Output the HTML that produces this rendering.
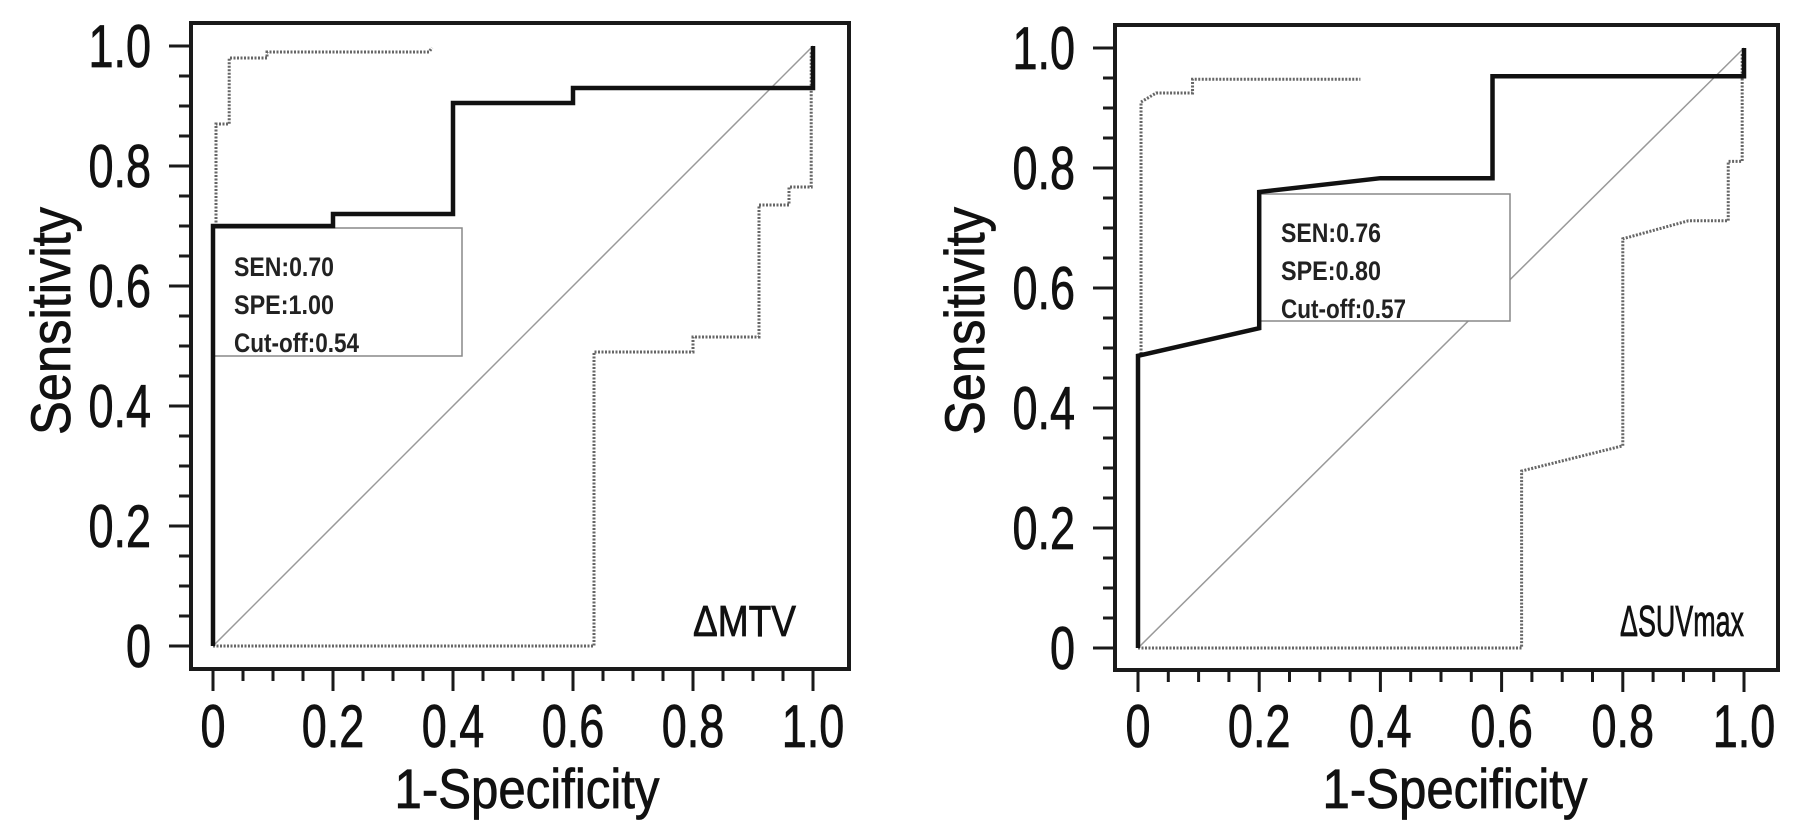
<!DOCTYPE html>
<html><head><meta charset="utf-8"><style>
html,body{margin:0;padding:0;background:#fff;}
svg{display:block;font-family:"Liberation Sans",Arial,sans-serif;}
</style></head><body>
<svg id="chart" width="1795" height="837" viewBox="0 0 1795 837" xmlns="http://www.w3.org/2000/svg"></svg>
<script>
// ---- data ----
const xTickLabels = ["0","0.2","0.4","0.6","0.8","1.0"];
const yTickLabels = ["0","0.2","0.4","0.6","0.8","1.0"];
const tickValues = [0,0.2,0.4,0.6,0.8,1.0];

const mtvRocX = [0,0,0.2,0.2,0.4,0.4,0.6,0.6,1.0,1.0];
const mtvRocY = [0,0.70,0.70,0.72,0.72,0.905,0.905,0.93,0.93,1.0];
const mtvUpperX = [0.005,0.005,0.027,0.027,0.09,0.09,0.36,0.365];
const mtvUpperY = [0.70,0.87,0.87,0.98,0.98,0.99,0.99,0.997];
const mtvLowerX = [0,0.635,0.635,0.80,0.80,0.91,0.91,0.96,0.96,0.997,0.997];
const mtvLowerY = [0,0,0.49,0.49,0.515,0.515,0.735,0.735,0.765,0.765,0.99];
const mtvStats = ["SEN:0.70","SPE:1.00","Cut-off:0.54"];

const suvRocX = [0,0,0.2,0.2,0.4,0.585,0.585,1.0,1.0];
const suvRocY = [0,0.487,0.533,0.76,0.783,0.783,0.953,0.953,1.0];
const suvUpperX = [0.005,0.005,0.03,0.09,0.09,0.367];
const suvUpperY = [0.49,0.91,0.925,0.925,0.948,0.948];
const suvLowerX = [0,0.633,0.633,0.80,0.80,0.908,0.974,0.974,0.997,0.997];
const suvLowerY = [0,0,0.295,0.337,0.682,0.712,0.712,0.811,0.811,0.99];
const suvStats = ["SEN:0.76","SPE:0.80","Cut-off:0.57"];

const NS = "http://www.w3.org/2000/svg";
const svg = document.getElementById('chart');
function el(tag, attrs, parent){
  const e = document.createElementNS(NS, tag);
  for (const k in attrs) e.setAttribute(k, attrs[k]);
  (parent||svg).appendChild(e);
  return e;
}

function panel(cfg){
  const g = el('g', {});
  
  
  const sx = v => cfg.x0 + v*(cfg.x1-cfg.x0);
  const sy = v => cfg.y0 - v*(cfg.y0-cfg.y1);
  const fr = el('rect', {x:cfg.fl, y:cfg.ft, width:cfg.fr-cfg.fl, height:cfg.fb-cfg.ft, fill:'none', stroke:'#1a1a1a', 'stroke-width':4}, g);
  
  
  for (let i=0;i<=20;i++){
    const v=i/20, major=(i%4===0);
    const t = el('line', {x1:cfg.fl-(major?22:12), x2:cfg.fl, y1:sy(v), y2:sy(v), stroke:'#1a1a1a', 'stroke-width':3}, g);
    
    
  }
  for (let i=0;i<=20;i++){
    const v=i/20, major=(i%4===0);
    const t = el('line', {y1:cfg.fb, y2:cfg.fb+(major?22:12), x1:sx(v), x2:sx(v), stroke:'#1a1a1a', 'stroke-width':3}, g);
    
    
  }
  tickValues.forEach((v,i)=>{
    const ty = el('text', {x:0, y:0, 'text-anchor':'end', 'font-size':60, fill:'#111', stroke:'#111', 'stroke-width':0.8,
      transform:`translate(${cfg.fl-40},${sy(v)+21}) scale(0.75,1)`}, g);
    ty.textContent = yTickLabels[i];
    
    
    const tx = el('text', {x:0, y:0, 'text-anchor':'middle', 'font-size':60, fill:'#111', stroke:'#111', 'stroke-width':0.8,
      transform:`translate(${sx(v)},747) scale(0.75,1)`}, g);
    tx.textContent = xTickLabels[i];
    
    
  });
  const xt = el('text', {x:(cfg.x0+cfg.x1)/2+14, y:808, 'text-anchor':'middle', 'font-size':56, fill:'#111', stroke:'#111', 'stroke-width':0.8, textLength:265, lengthAdjust:'spacingAndGlyphs'}, g);
  xt.textContent = '1-Specificity';
  
  
  const yt = el('text', {x:0, y:0, 'text-anchor':'middle', 'font-size':56, fill:'#111', stroke:'#111', 'stroke-width':0.8, textLength:228, lengthAdjust:'spacingAndGlyphs', transform:`translate(${cfg.ytx},321) rotate(-90)`}, g);
  yt.textContent = 'Sensitivity';
  
  
  const d = el('line', {x1:sx(0), y1:sy(0), x2:sx(1), y2:sy(1), stroke:'#999', 'stroke-width':1.5}, g);
  
  
  const pts = (xs,ys)=>xs.map((x,i)=>sx(x)+','+sy(ys[i])).join(' ');
  const up = el('polyline', {points:pts(cfg.ux,cfg.uy), fill:'none', stroke:'#666', 'stroke-width':3, 'stroke-dasharray':'2,1.5'}, g);
  
  
  const lo = el('polyline', {points:pts(cfg.lx,cfg.ly), fill:'none', stroke:'#666', 'stroke-width':3, 'stroke-dasharray':'2,1.5'}, g);
  
  
  const bx = el('rect', {x:cfg.bx, y:cfg.by, width:cfg.bw, height:cfg.bh, fill:'#fff', stroke:'#888', 'stroke-width':1.5}, g);
  
  
  const lens = [100, 100, 125];
  cfg.stats.forEach((s,i)=>{
    const t = el('text', {x:cfg.bx+21, y:cfg.by+48+i*38, 'font-size':27, 'font-weight':'bold', fill:'#222', textLength:lens[i], lengthAdjust:'spacingAndGlyphs'}, g);
    t.textContent = s;
    
    
  });
  const roc = el('polyline', {points:pts(cfg.rx,cfg.ry), fill:'none', stroke:'#111', 'stroke-width':4.5, 'stroke-linejoin':'miter'}, g);
  
  
  const lab = el('text', {x:cfg.labX, y:636, 'font-size':44, fill:'#111', stroke:'#111', 'stroke-width':0.8, textLength:cfg.labW, lengthAdjust:'spacingAndGlyphs'}, g);
  lab.textContent = cfg.label;
  
  
}

panel({name:'mtv-roc-panel', x0:213, x1:813, y0:646, y1:46, fl:191, fr:849, ft:23, fb:669, ytx:70,
  rx:mtvRocX, ry:mtvRocY, ux:mtvUpperX, uy:mtvUpperY, lx:mtvLowerX, ly:mtvLowerY,
  bx:213, by:228, bw:249, bh:128, stats:mtvStats, label:'ΔMTV', labX:693, labW:103});
panel({name:'suvmax-roc-panel', x0:1138, x1:1744, y0:648, y1:48, fl:1115, fr:1778, ft:25, fb:670, ytx:984,
  rx:suvRocX, ry:suvRocY, ux:suvUpperX, uy:suvUpperY, lx:suvLowerX, ly:suvLowerY,
  bx:1260, by:194, bw:250, bh:127, stats:suvStats, label:'ΔSUVmax', labX:1620, labW:124});
</script>
</body></html>
